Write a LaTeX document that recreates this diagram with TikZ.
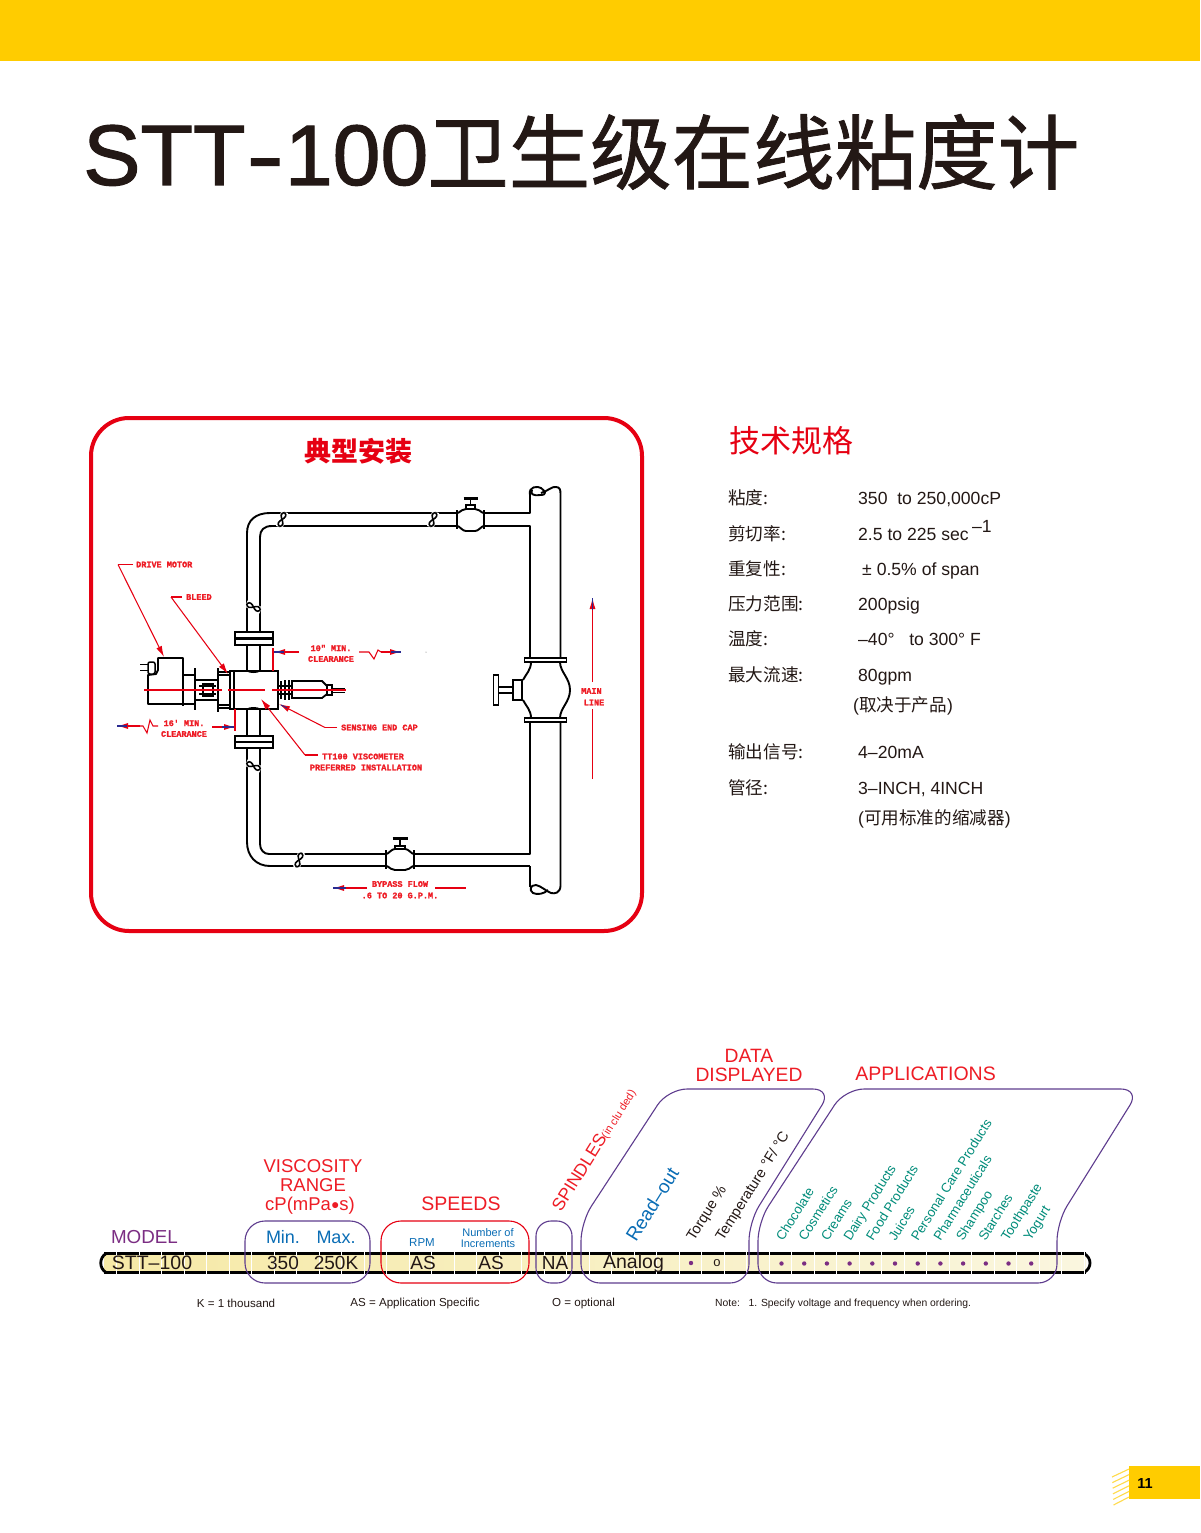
\documentclass[tikz,border=0pt]{standalone}
\usepackage{fontspec}
\setmainfont{Liberation Sans}
\newfontfamily\cjk{Noto Sans CJK SC}
\newfontfamily\titlelat[FakeBold=1.3]{Liberation Sans}
\newfontfamily\titlecjk[FakeBold=1.0]{Noto Sans CJK SC}
\newfontfamily\cadfont[BoldFeatures={FakeBold=1.5}]{Liberation Mono}
\usetikzlibrary{arrows.meta,shapes.geometric}
\definecolor{bannerY}{HTML}{FFCC00}
\definecolor{frameR}{HTML}{E60012}
\definecolor{labR}{HTML}{EE1C25}
\definecolor{purp}{HTML}{5E3C8E}
\definecolor{modelP}{HTML}{7B2D83}
\definecolor{blueT}{HTML}{0A6DB5}
\definecolor{tealT}{HTML}{008C7A}
\definecolor{barL}{HTML}{F6E9A6}
\definecolor{barR}{HTML}{FAF6DF}
\definecolor{navyT}{HTML}{2A2A90}
\definecolor{inkT}{HTML}{231815}
\tikzset{
  pipeline/.style={draw=black,line width=1.9pt,line join=round},
  cad/.style={text=labR,inner sep=0pt,font=\cadfont\bfseries\fontsize{8.5}{9}\selectfont},
  leader/.style={draw=frameR,line width=1.05pt},
  leadtip/.style={draw=frameR,line width=1.05pt,-{Latex[length=11pt,width=6pt]}},
  spec/.style={anchor=base west,inner sep=0pt,text=inkT,font=\fontsize{17.6}{20}\selectfont},
  speclab/.style={anchor=base west,inner sep=0pt,text=inkT,font=\cjk\fontsize{17.6}{20}\selectfont},
  headR/.style={inner sep=0pt,text=labR,align=center,font=\fontsize{18.5}{19.3}\selectfont},
  barT/.style={inner sep=0pt,text=inkT,font=\fontsize{19}{20}\selectfont},
  footT/.style={inner sep=0pt,text=inkT,font=\fontsize{11.6}{12}\selectfont},
  slantT/.style={anchor=base west,inner sep=0pt,rotate=58},
  appT/.style={slantT,text=tealT,font=\fontsize{13.2}{15}\selectfont},
  blackS/.style={slantT,text=inkT,font=\fontsize{14.6}{15}\selectfont},
  groupbox/.style={line width=1.1pt,rounded corners=20pt},
  pipebreak/.pic={
    \fill[white] (-3.5,-8) rectangle (3.5,8);
    \draw[line width=1.6pt] (0,-7.5) .. controls (-8,-3) and (8,3) .. (0,7.5);
    \draw[line width=1.6pt] (0,-7.5) .. controls (8,-3) and (-8,3) .. (0,7.5);
  }
}
\newcommand{\navytip}[2]{\draw[navyT,line width=1.1pt] #1 -- #2;}
\begin{document}
\begin{tikzpicture}[x=1pt,y=-1pt]
\useasboundingbox (0,0) rectangle (1200,1533);
\fill[white] (0,0) rectangle (1200,1533);
\fill[bannerY] (0,0) rectangle (1200,61);

% title
\node[anchor=base west,inner sep=0pt,text=inkT,font=\titlelat\fontsize{86}{90}\selectfont] (titleA) at (83,185) {STT\kern1pt\scalebox{1.3}[1]{-}\kern1pt100};
\node[anchor=base west,inner sep=0pt,text=inkT,font=\titlecjk\fontsize{81.5}{90}\selectfont] (titleB) at (427,183) {卫生级在线粘度计};

% frame
\draw[frameR,line width=4pt,rounded corners=38pt] (91,418) rectangle (642,931);
\node[inner sep=0pt,text=frameR,font=\cjk\bfseries\fontsize{27}{30}\selectfont] (typical) at (358,451) {典型安装};

% ---- piping ----
% top bypass line
\draw[pipeline] (247,632) -- (247,533) .. controls (247,520) and (256,513) .. (270,513) -- (457,513);
\draw[pipeline] (484,513) -- (530,513) -- (530,492);
\draw[pipeline] (260,632) -- (260,537) .. controls (260,530) and (264,526) .. (272,526) -- (457,526);
\draw[pipeline] (484,526) -- (530,526) -- (530,658);
% top valve
\draw[line width=2.6pt] (457,510) -- (457,529);
\draw[line width=2.6pt] (484,510) -- (484,529);
\draw[pipeline] (458,513) .. controls (461,511) and (463,509) .. (466,509) -- (475,509) .. controls (478,509) and (480,511) .. (483,513);
\draw[pipeline] (458,526) .. controls (461,528) and (463,531) .. (466,531) -- (475,531) .. controls (478,531) and (480,528) .. (483,526);
\draw[line width=1.6pt] (466,509) -- (466,505) -- (475,505) -- (475,509);
\draw[line width=1.6pt] (470.5,505) -- (470.5,498);
\draw[line width=3pt] (463.5,498) -- (477.5,498);
% main line
\draw[pipeline] (530,495) .. controls (528,486) and (538,486) .. (541,488) .. controls (545,491) and (548,495) .. (540,495) .. controls (533,496) and (530,494) .. (532,490);
\draw[pipeline] (541,493) .. controls (548,491) and (552,486) .. (556,487) .. controls (560,487) and (560.5,490) .. (560.5,494) -- (560.5,658);
\draw[pipeline] (530,722) -- (530,854) -- (414,854);
\draw[pipeline] (530,866) -- (530,887);
\draw[pipeline] (560.5,722) -- (560.5,886) .. controls (560,893) and (555,894) .. (551,893) .. controls (546,891) and (541,886) .. (536,885) .. controls (530,885) and (529,890) .. (533,893) .. controls (537,895) and (544,894) .. (548,890);
% main valve
\draw[line width=1.7pt,fill=white] (524.5,658) rectangle (566.5,662);
\draw[line width=1.7pt,fill=white] (524.5,718) rectangle (566.5,722);
\draw[pipeline] (531,662) .. controls (531,670) and (526,674) .. (523,680);
\draw[pipeline] (523,700) .. controls (526,706) and (531,710) .. (531,718);
\draw[pipeline] (560,662) .. controls (560,672) and (570,678) .. (570,690) .. controls (570,702) and (560,708) .. (560,718);
\draw[line width=1.7pt,fill=white] (513,680) rectangle (522,700);
\draw[line width=1.5pt] (498,687) -- (513,687);
\draw[line width=1.5pt] (498,693) -- (513,693);
\draw[line width=1.7pt,fill=white] (493.5,675) rectangle (498.5,705);
% bottom bypass
\draw[pipeline] (386,854) -- (269,854) .. controls (264,854) and (260,850) .. (260,844) -- (260,748);
\draw[pipeline] (247,748) -- (247,842) .. controls (247,856) and (256,866) .. (270,866) -- (386,866);
\draw[pipeline] (414,866) -- (530,866);
\draw[line width=2.6pt] (386,850) -- (386,869);
\draw[line width=2.6pt] (414,850) -- (414,869);
\draw[pipeline] (387,854) .. controls (390,852) and (392,849) .. (395,849) -- (405,849) .. controls (408,849) and (410,852) .. (413,854);
\draw[pipeline] (387,866) .. controls (390,868) and (392,870) .. (395,870) -- (405,870) .. controls (408,870) and (410,868) .. (413,866);
\draw[line width=1.6pt] (395,849) -- (395,846) -- (405,846) -- (405,849);
\draw[line width=1.6pt] (400,846) -- (400,838);
\draw[line width=3pt] (392.5,838) -- (407.5,838);
% breaks
\pic[rotate=-20] at (282,519.5) {pipebreak};
\pic[rotate=-20] at (433,519.5) {pipebreak};
\pic[rotate=-20] at (299,860) {pipebreak};
\pic[rotate=65] at (253.5,607) {pipebreak};
\pic[rotate=65] at (253.5,766) {pipebreak};
% flanges and stubs
\draw[pipeline] (247,645) -- (247,671);
\draw[pipeline] (260,645) -- (260,671);
\draw[pipeline] (247,709) -- (247,736);
\draw[pipeline] (260,709) -- (260,736);
\draw[line width=1.8pt,fill=white] (235,632) rectangle (273,645);
\draw[line width=2.2pt] (235,638.5) -- (273,638.5);
\draw[line width=1.8pt,fill=white] (235,736) rectangle (273,748);
\draw[line width=2.2pt] (235,742) -- (273,742);
% viscometer body
\draw[line width=1.8pt,fill=white] (230,671) rectangle (278,709);
\draw[line width=1.2pt] (234,671) -- (234,709);
\draw[line width=1pt] (247,671) .. controls (250,673) and (257,673) .. (260,671);
\draw[line width=1pt] (247,709) .. controls (250,707) and (257,707) .. (260,709);
% drive motor
\draw[pipeline] (165,704) -- (148,704) -- (148,675) -- (156,674) -- (158,670) -- (158,658) -- (183,658) -- (183,704) -- (165,704);
\draw[line width=1pt] (140,664) -- (149,664);
\draw[line width=1pt] (140,670) -- (149,670);
\draw[line width=1.5pt,rounded corners=2pt,fill=white] (148,662) rectangle (155,674);
\draw[line width=2.5pt] (183,672) -- (183,678);
\draw[line width=2.5pt] (183,700) -- (183,706);
\draw[line width=1.7pt] (183,675) rectangle (195,704);
\draw[line width=2.6pt] (195,668) -- (195,710);
\draw[line width=1.5pt] (195,680) -- (218,680);
\draw[line width=1.5pt] (195,700) -- (218,700);
\draw[line width=1.5pt] (199,686) -- (216,686);
\draw[line width=1.5pt] (199,694) -- (216,694);
\draw[line width=1.5pt] (203,684) rectangle (213,696);
\draw[line width=1.5pt,fill=white] (218,672) rectangle (230,708);
\draw[line width=2.6pt] (218,668) -- (218,680);
\draw[line width=2.6pt] (218,700) -- (218,712);
\draw[line width=1.8pt] (218,675) -- (230,675);
\draw[line width=1.8pt] (218,705) -- (230,705);
% sensing end
\draw[line width=2.4pt] (281,681) -- (281,699);
\draw[line width=2.4pt] (285,680) -- (285,700);
\draw[line width=2.4pt] (289,680) -- (289,700);
\draw[line width=1.2pt] (278,686) -- (292,686);
\draw[line width=1.2pt] (278,694) -- (292,694);
\draw[line width=1.8pt] (292,681) -- (322,681) -- (327,686) -- (327,694) -- (322,698) -- (292,698) -- cycle;
\draw[line width=1.4pt] (327,685) rectangle (332,695);
\draw[line width=1pt] (332,688) -- (345,688);
\draw[line width=1pt] (332,692) -- (345,692);
% centre line
\draw[leader] (144,690) -- (222,690);
\draw[leader] (228,690) -- (265,690);
\draw[leader] (272,690) -- (346,690);

% ---- labels ----
\node[cad,anchor=west] (drive) at (136,564.5) {DRIVE MOTOR};
\coordinate (driveA) at (133,564.5);
\coordinate (driveB) at (118,564.5);
\coordinate (driveT) at (164,657);
\draw[leader] (driveA) -- (driveB);
\draw[leadtip] (driveB) -- (driveT);
\node[cad,anchor=west] (bleed) at (186,597) {BLEED};
\coordinate (bleedA) at (182,597);
\coordinate (bleedB) at (171,597);
\coordinate (bleedT) at (228,674);
\draw[leader] (bleedA) -- (bleedB);
\draw[leadtip] (bleedB) -- (bleedT);
\node[cad] (clrA) at (331,648) {10" MIN.};
\node[cad] (clrB) at (331,659) {CLEARANCE};
\draw[leader] (273,648) -- (273,671);
\draw[leadtip] (299,652) -- (274,652);
\navytip{(274,652)}{(284,652)}
\draw[leader] (359,652) -- (369,652) -- (374,659) -- (378,650) -- (381,652);
\draw[leadtip] (381,652) -- (401,652);
\navytip{(391,652)}{(401,652)}
\fill[black!60] (426,652) circle (0.5);
\node[cad] (clrC) at (184,723) {16' MIN.};
\node[cad] (clrD) at (184,734) {CLEARANCE};
\draw[leadtip] (140,726) -- (117,726);
\navytip{(117,726)}{(127,726)}
\draw[leader] (140,726) -- (143,726) -- (147,733) -- (150,720) -- (153,726) -- (158,726);
\draw[leadtip] (212,727) -- (235,727);
\navytip{(222,727)}{(234,727)}
\draw[leader] (235,709) -- (235,731);
\node[cad,anchor=west] (cap) at (341,727.5) {SENSING END CAP};
\coordinate (capA) at (337,727.5);
\coordinate (capB) at (325,727.5);
\coordinate (capT) at (279,704);
\draw[leader] (capA) -- (capB);
\draw[leadtip] (capB) -- (capT);
\navytip{(281,705)}{(287,708)}
\node[cad] (tta) at (363,756.5) {TT100 VISCOMETER};
\node[cad] (ttb) at (366,767.5) {PREFERRED INSTALLATION};
\coordinate (ttA) at (318,755);
\coordinate (ttB) at (305,755);
\coordinate (ttT) at (261,699);
\draw[leader] (ttA) -- (ttB);
\draw[leadtip] (ttB) -- (ttT);
\node[cad] (bypassA) at (400,884) {BYPASS FLOW};
\node[cad] (bypassB) at (400,895.5) {.6 TO 20 G.P.M.};
\draw[leadtip] (367,888) -- (333,888);
\navytip{(333,888)}{(346,888)}
\draw[leader] (435,888) -- (466,888);
\node[cad] (mainA) at (591.5,691) {MAIN};
\node[cad] (mainB) at (594,702.5) {LINE};
\draw[line width=1pt,draw=frameR] (592.5,779) -- (592.5,709);
\draw[line width=1pt,draw=frameR,-{Latex[length=11pt,width=6pt]}] (592.5,682) -- (592.5,598);
\navytip{(592.5,598)}{(592.5,610)}

% ---- specification ----
\node[anchor=base west,inner sep=0pt,text=frameR,font=\cjk\fontsize{31}{32}\selectfont] (spechead) at (729,452) {技术规格};
\node[speclab] (l1) at (728,504) {粘度:};
\node[speclab] (l2) at (728,540) {剪切率:};
\node[speclab] (l3) at (728,575) {重复性:};
\node[speclab] (l4) at (728,610) {压力范围:};
\node[speclab] (l5) at (728,645) {温度:};
\node[speclab] (l6) at (728,681) {最大流速:};
\node[speclab] (l7) at (728,758) {输出信号:};
\node[speclab] (l8) at (728,794) {管径:};
\node[spec] (v1) at (858,504) {350\ \ to 250,000cP};
\node[spec] (v2) at (858,540) {2.5 to 225 sec};
\node[spec] (v2b) at (972,532) {–1};
\node[spec] (v3) at (862,575) {± 0.5\% of span};
\node[spec] (v4) at (858,610) {200psig};
\node[spec] (v5) at (858,645) {–40°\ \ \ to 300° F};
\node[spec] (v6) at (858,681) {80gpm};
\node[spec] (v6b) at (853,711) {({\cjk\fontsize{17.6}{20}\selectfont 取决于产品})};
\node[spec] (v7) at (858,758) {4–20mA};
\node[spec] (v8) at (858,794) {3–INCH, 4INCH};
\node[spec] (v8b) at (858,824) {({\cjk\fontsize{17.6}{20}\selectfont 可用标准的缩减器})};

% ---- order bar ----
\shade[left color=barL,right color=barR] (104,1253.5) rectangle (1086,1272.5);
\draw[line width=2.5pt] (104,1253.5) -- (1086,1253.5);
\draw[line width=2.5pt] (104,1272.5) -- (1086,1272.5);
\draw[line width=2.8pt] (106,1253.5) .. controls (99,1258) and (99,1268) .. (106,1272.5);
\draw[line width=2.8pt] (1084,1253.5) .. controls (1092,1258) and (1092,1268) .. (1084,1272.5);
\foreach \k in {-1,0,...,42}{
  \draw[white,line width=1pt] ({139+22.5*\k},1252) -- ({139+22.5*\k},1274);
}
\draw[purp,groupbox] (245,1221) rectangle (370,1283);
\draw[frameR,groupbox] (381,1221) rectangle (529,1283);
\draw[purp,groupbox,rounded corners=15pt] (536,1221) rectangle (572,1283);
\draw[purp,line width=1.1pt,rounded corners=19pt] (581,1283) -- (581,1222) -- (668,1089) -- (832,1089) -- (749,1222) -- (749,1283) -- cycle;
\draw[purp,line width=1.1pt,rounded corners=19pt] (758,1283) -- (758,1222) -- (845,1089) -- (1140,1089) -- (1057,1222) -- (1057,1283) -- cycle;

\node[inner sep=0pt,text=modelP,font=\fontsize{18.8}{20}\selectfont] (model) at (144.5,1237) {MODEL};
\node[headR] (visc) at (313,1187) {VISCOSITY\\RANGE\\\hspace*{-6pt}cP(mPa\raisebox{1.5pt}{\scalebox{.75}{●}}s)};
\node[headR,font=\fontsize{19.5}{20}\selectfont] (speeds) at (461,1204) {SPEEDS};
\node[headR,font=\fontsize{19.3}{19}\selectfont] (data) at (749,1065.5) {DATA\\DISPLAYED};
\node[headR,font=\fontsize{19.5}{20}\selectfont] (apps) at (925.5,1074) {APPLICATIONS};
\node[inner sep=0pt,text=blueT,font=\fontsize{18}{20}\selectfont] (minT) at (283,1237) {Min.};
\node[inner sep=0pt,text=blueT,font=\fontsize{18}{20}\selectfont] (maxT) at (336,1237) {Max.};
\node[inner sep=0pt,text=blueT,font=\fontsize{11.5}{12}\selectfont] (rpm) at (422,1243) {RPM};
\node[inner sep=0pt,text=blueT,align=center,font=\fontsize{11}{11.5}\selectfont] (nincr) at (488,1238) {Number of\\Increments};
\node[barT,font=\fontsize{19.5}{20}\selectfont] (b1) at (152,1262.5) {STT–100};
\node[barT] (b2) at (283,1262.5) {350};
\node[barT] (b3) at (336,1262.5) {250K};
\node[barT] (b4) at (423,1262.5) {AS};
\node[barT] (b5) at (491,1262.5) {AS};
\node[barT] (b6) at (555,1262.5) {NA};
\node[barT,font=\fontsize{19.5}{20}\selectfont] (b7) at (633.5,1263.5) {Analog};
\fill[modelP] (691,1263) circle (2.2);
\node[inner sep=0pt,text=inkT,font=\fontsize{13}{14}\selectfont] (odot) at (717,1263) {o};
\foreach \k in {0,...,11}{
  \fill[modelP] ({781.5+22.7*\k},1263.5) circle (2.2);
}
% slanted
\node[slantT,text=labR,font=\fontsize{17.6}{20}\selectfont] (spin) at (561,1213) {SPINDLES{\fontsize{11}{11}\selectfont(in clu ded)}};
\node[slantT,text=blueT,font=\fontsize{19}{21}\selectfont] (read) at (636,1243) {Read–out};
\node[blackS] (torq) at (694,1242) {Torque \%};
\node[blackS] (temp) at (723,1242) {Temperature °F/ °C};
\foreach \t/\x in {Chocolate/783,Cosmetics/805.5,Creams/828,Dairy Products/850.5,Food Products/873,Juices/895.5,Personal Care Products/918,Pharmaceuticals/940.5,Shampoo/963,Starches/985.5,Toothpaste/1008,Yogurt/1030.5}{
  \node[appT] at (\x,1242) {\t};
}
\node[footT] (f1) at (236,1303.5) {K = 1 thousand};
\node[footT] (f2) at (415,1303.5) {AS = Application Specific};
\node[footT] (f3) at (583.5,1303.5) {O = optional};
\node[footT,anchor=west,font=\fontsize{10.35}{12}\selectfont] (f4) at (715,1303.5) {Note:\ \ \ 1. Specify voltage and frequency when ordering.};

% page tab
\fill[bannerY] (1129,1466) rectangle (1200,1499);
\foreach \k in {0,...,5}{
  \draw[bannerY!70!white,line width=1.1pt] (1129,{1469+5.6*\k}) -- ({1112+\k*0.3},{1477+5.6*\k});
}
\node[inner sep=0pt,text=black,font=\bfseries\fontsize{14.5}{15}\selectfont] (pg) at (1145,1483) {11};
\end{tikzpicture}
\end{document}
